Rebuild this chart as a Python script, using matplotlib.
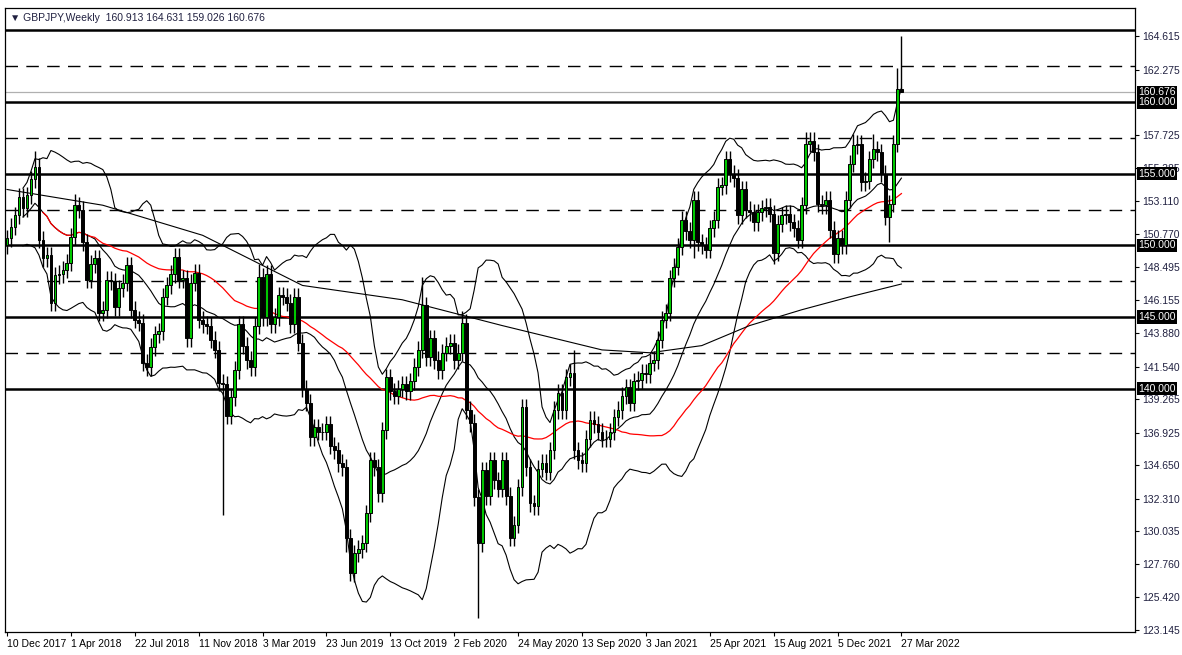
import numpy as np
import pandas as pd
import matplotlib
matplotlib.use("Agg")
import matplotlib.pyplot as plt

plt.rcParams['font.family'] = ['Liberation Sans', 'DejaVu Sans']

# weekly closes GBPJPY, 10 Dec 2017 .. 27 Mar 2022
closes = [
    150.5, 151.3, 152.1, 153.4, 152.6, 153.5, 154.6, 155.5, 150.4, 149.1,
    149.3, 146.0, 147.9, 148.0, 148.3, 148.8, 150.6, 152.8, 152.5, 150.2,
    147.6, 148.7, 149.1, 145.3, 145.5, 147.6, 147.5, 145.7, 147.0, 147.4,
    148.6, 145.5, 144.8, 144.6, 141.8, 141.5, 142.9, 143.8, 144.0, 146.4,
    147.2, 148.0, 149.2, 147.6, 147.7, 143.5, 147.4, 148.1, 144.8, 144.5,
    144.4, 143.4, 142.7, 140.4, 140.3, 138.1, 139.4, 141.3, 144.5, 143.0,
    142.0, 141.5, 144.4, 147.8, 145.0, 148.0, 144.5, 145.0, 146.5, 146.4,
    146.0, 144.5, 146.4, 143.2, 140.0, 139.0, 136.6, 137.3, 137.0, 137.0,
    137.5, 136.0, 135.7, 134.8, 134.5, 129.6, 127.1, 128.5, 128.8, 129.2,
    131.3, 135.0, 134.5, 132.7, 137.1, 140.8, 139.8, 139.5, 140.0, 140.3,
    139.8, 140.5, 141.5, 142.7, 145.8, 142.2, 143.5, 142.0, 141.3, 142.5,
    143.0, 143.2, 142.0, 142.5, 144.6, 138.5, 137.6, 132.4, 129.2, 134.3,
    132.5, 135.0, 133.6, 133.0, 135.0, 132.5, 129.6, 130.5, 133.1, 138.7,
    134.5, 132.0, 131.8, 134.4, 134.8, 134.2, 135.7, 138.5, 139.7, 138.5,
    140.8, 141.1, 135.7, 135.0, 134.8, 136.5, 137.8, 137.5, 137.0, 136.5,
    136.5, 137.0, 138.0, 138.5, 139.5, 140.1, 139.0, 140.5, 140.6, 141.1,
    141.0, 141.8, 142.0, 143.4, 144.8, 145.3, 147.7, 148.5, 149.9, 151.8,
    151.0, 150.4, 153.2, 150.2, 150.0, 149.7, 151.2, 151.8, 154.1, 154.2,
    156.0, 155.0, 154.7, 152.1, 153.9, 152.5, 152.3, 151.6, 152.3, 152.6,
    152.7, 152.2, 149.5, 151.5, 152.1, 152.2, 151.6, 151.2, 150.4, 152.8,
    157.1, 157.3, 156.5, 152.9, 152.8, 153.2, 151.1, 149.4, 150.5, 150.0,
    153.2, 155.7, 157.0, 157.1, 154.4, 154.5, 156.0, 156.7, 156.5, 155.0,
    152.0, 152.9, 157.1, 160.9, 160.676,
]
first_open = 150.0
last_open = 160.913
# wick sizes; most weeks ~0.6, some long shadows
upper_wick = {7: 1.1, 17: 0.8, 42: 0.6, 63: 0.9, 104: 2.0, 114: 0.8, 142: 1.6, 180: 0.6,
              200: 0.8, 212: 0.8, 217: 1.1, 223: 1.5, 224: 3.718}
lower_wick = {54: 9.1, 85: 1.0, 86: 0.5, 118: 5.2, 172: 1.3, 192: 0.8, 207: 0.6, 221: 1.8, 224: 0.0}
default_wick = 0.6

# 200-week average (week index, price)
ma200_idx = [0, 24, 49, 74, 99, 124, 149, 161, 174, 186, 199, 211, 224]
ma200_val = [153.9, 152.8, 150.7, 147.2, 146.2, 144.4, 142.7, 142.5, 143.0, 144.4, 145.5, 146.4, 147.3]

date_labels = ["10 Dec 2017", "1 Apr 2018", "22 Jul 2018", "11 Nov 2018", "3 Mar 2019",
               "23 Jun 2019", "13 Oct 2019", "2 Feb 2020", "24 May 2020", "13 Sep 2020",
               "3 Jan 2021", "25 Apr 2021", "15 Aug 2021", "5 Dec 2021", "27 Mar 2022"]
price_ticks = [164.615, 162.275, 157.725, 155.385, 153.110, 150.770, 148.495, 146.155,
               143.880, 141.540, 139.265, 136.925, 134.650, 132.310, 130.035, 127.760,
               125.420, 123.145]
solid_levels = [165.0, 160.0, 155.0, 150.0, 145.0, 140.0]
dashed_levels = [162.5, 157.5, 152.5, 147.5, 142.5]

c = np.array(closes)
n = len(c)
o = np.concatenate([[first_open], c[:-1]])
o[-1] = last_open
up = np.array([upper_wick.get(i, default_wick) for i in range(n)])
dn = np.array([lower_wick.get(i, default_wick) for i in range(n)])
hi = np.maximum(o, c) + up
lo = np.minimum(o, c) - dn
x = np.arange(n)

s = pd.Series(c)
mid = s.rolling(20, min_periods=5).mean()
sd = s.rolling(20, min_periods=5).std(ddof=0)
red = s.rolling(50, min_periods=10).mean()

W, H = 1182, 655
Y0, Y1 = 123.005, 166.57
fig = plt.figure(figsize=(W / 100, H / 100), dpi=100)
fig.patch.set_facecolor("white")
ax = fig.add_axes([5 / W, 23 / H, 1130 / W, 624 / H])
ax.set_xlim(-0.5, 282.5)
ax.set_ylim(Y0, Y1)

for lv in solid_levels:
    ax.axhline(lv, color="black", lw=1.8, zorder=1)
for lv in dashed_levels:
    ax.axhline(lv, color="black", lw=1.0, dashes=(9, 6), zorder=1)
ax.axhline(c[-1], color="#b0b0b0", lw=0.9, zorder=1)

ax.plot(x, mid + 2 * sd, color="black", lw=0.8, zorder=2)
ax.plot(x, mid - 2 * sd, color="black", lw=0.8, zorder=2)
ax.plot(x, mid, color="black", lw=0.8, zorder=2)
ax.plot(x, red, color="red", lw=0.9, zorder=2)
ax.plot(ma200_idx, ma200_val, color="black", lw=0.8, zorder=2)

ax.vlines(x, lo, hi, color="black", lw=1.0, zorder=3)
bull = c >= o
ax.bar(x[bull], (c - o)[bull], bottom=o[bull], width=0.7, color="#00c800",
       edgecolor="black", lw=0.7, zorder=4)
ax.bar(x[~bull], (o - c)[~bull], bottom=c[~bull], width=0.7, color="black",
       edgecolor="black", lw=0.7, zorder=4)

ax.yaxis.tick_right()
ax.set_yticks(price_ticks)
ax.set_yticklabels([f"{t:.3f}" for t in price_ticks])
ax.set_xticks(np.arange(0, n, 16))
ax.set_xticklabels(date_labels, ha="left")
ax.tick_params(labelsize=7.5, length=3, colors="black", pad=2)
for lab in ax.get_yticklabels():
    lab.set_color("#202040")
for sp in ax.spines.values():
    sp.set_linewidth(0.9)

for lv in [c[-1]] + solid_levels[1:]:
    ax.text(1.003, (lv - Y0) / (Y1 - Y0), f"{lv:.3f}", transform=ax.transAxes,
            fontsize=7.5, color="white", va="center", ha="left", zorder=10,
            bbox=dict(boxstyle="square,pad=0.15", fc="black", ec="none"))

ax.text(0.004, 0.992, "\u25bc GBPJPY,Weekly  160.913 164.631 159.026 160.676",
        transform=ax.transAxes, fontsize=7.5, va="top", ha="left", color="#202040")

fig.savefig("out.png", dpi=100)
